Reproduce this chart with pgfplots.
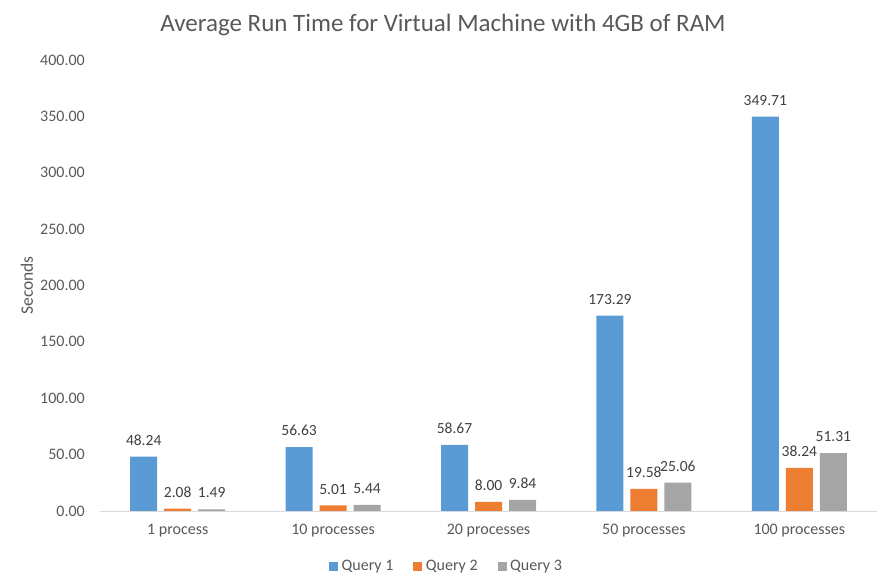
\documentclass[border=0pt]{standalone}
\usepackage{pgfplots}
\pgfplotsset{compat=1.18}
\usepackage{pgfplotstable}
\usepackage{fontspec}
\setmainfont{Carlito}
\definecolor{qone}{HTML}{5B9BD5}
\definecolor{qtwo}{HTML}{ED7D31}
\definecolor{qthree}{HTML}{A5A5A5}
\definecolor{txt}{HTML}{595959}
\definecolor{lbl}{HTML}{404040}
\definecolor{axln}{HTML}{D9D9D9}

% run times in seconds, x = category index
\pgfplotstableread{
x q1 q2 q3
0 48.24 2.08 1.49
1 56.63 5.01 5.44
2 58.67 8.00 9.84
3 173.29 19.58 25.06
4 349.71 38.24 51.31
}\runtimes

\begin{document}
\begin{tikzpicture}[x=1bp,y=1bp]
\useasboundingbox (0,0) rectangle (883,583);
\node[anchor=base, text=txt, font=\fontsize{25bp}{30bp}\selectfont] at (443,551)
  {Average Run Time for Virtual Machine with 4GB of RAM};
\begin{axis}[
  at={(100bp,72bp)}, anchor=south west,
  scale only axis, width=777bp, height=451bp,
  ybar=7bp, bar width=27bp,
  xmin=-0.5, xmax=4.5, ymin=0, ymax=400,
  xtick={0,1,2,3,4},
  xticklabels={1 process,10 processes,20 processes,50 processes,100 processes},
  ytick={0,50,...,400},
  major tick length=0pt,
  axis x line*=bottom, axis y line*=left,
  x axis line style={draw=axln, line width=0.8bp, -},
  y axis line style={draw=none},
  /pgf/number format/assume math mode=true,
  /pgf/number format/.cd, fixed, fixed zerofill, precision=2, 1000 sep={}, /pgfplots/.cd,
  ticklabel style={text=txt, font=\fontsize{16bp}{19bp}\selectfont},
  yticklabel style={inner sep=0pt, xshift=-15bp},
  xticklabel style={inner sep=0pt, yshift=-13bp},
  ylabel={Seconds},
  every axis y label/.style={at={(rel axis cs:-0.094,0.5)}, rotate=90, anchor=center,
    text=txt, font=\fontsize{17.5bp}{21bp}\selectfont},
  nodes near coords,
  every node near coord/.append style={text=lbl, inner sep=0pt, yshift=11bp,
    font=\fontsize{15.5bp}{19bp}\selectfont},
  clip=false,
  legend columns=3,
  legend style={at={(rel axis cs:0.446,-0.122)}, anchor=center, draw=none,
    text=txt, font=\fontsize{16bp}{19bp}\selectfont,
    /tikz/every odd column/.append style={column sep=1.5bp},
    /tikz/every even column/.append style={column sep=18bp}},
  legend image code/.code={\fill[#1] (0bp,-4.5bp) rectangle (9bp,4.5bp);},
]
\addplot[fill=qone, draw=none] table[x=x, y=q1] {\runtimes};
\addplot[fill=qtwo, draw=none] table[x=x, y=q2] {\runtimes};
\addplot[fill=qthree, draw=none] table[x=x, y=q3] {\runtimes};
\legend{Query 1, Query 2, Query 3}
\end{axis}
\end{tikzpicture}
\end{document}
